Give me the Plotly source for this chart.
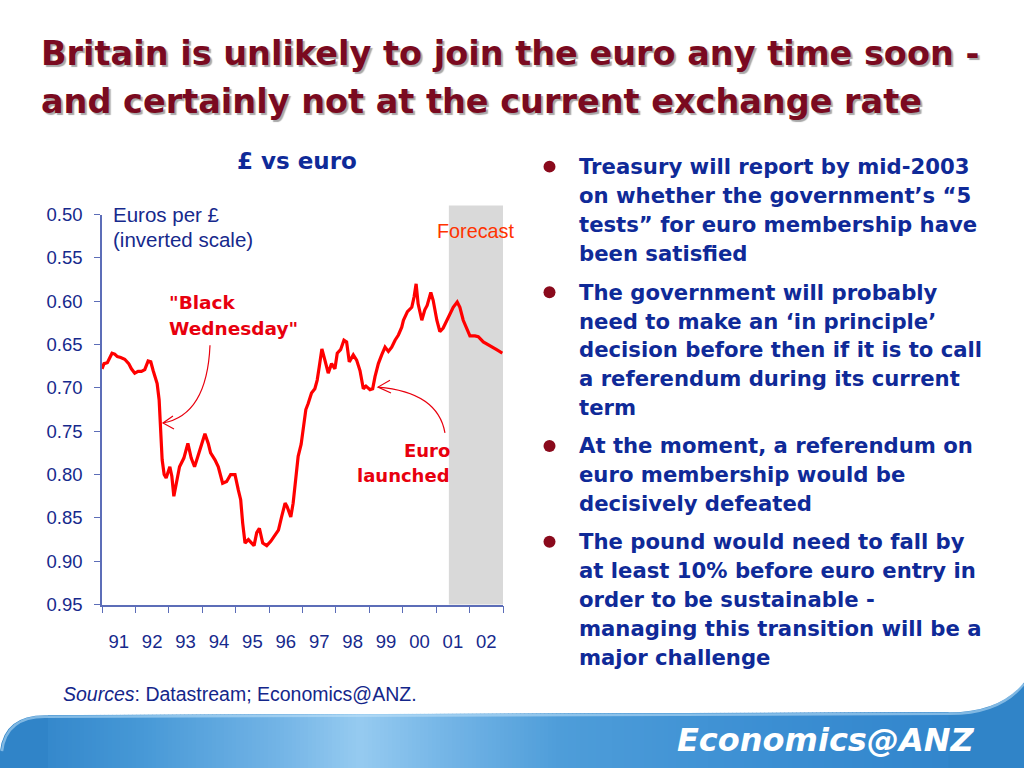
import plotly.graph_objects as go

# ---------------- data ----------------
years = [1991.00, 1991.06, 1991.16, 1991.23, 1991.30, 1991.38, 1991.46, 1991.56, 1991.68, 1991.80,
         1991.88, 1991.98, 1992.08, 1992.18, 1992.28, 1992.38, 1992.46, 1992.53, 1992.65, 1992.71,
         1992.76, 1992.80, 1992.86, 1992.92, 1993.03, 1993.09, 1993.15, 1993.27, 1993.32, 1993.45,
         1993.57, 1993.67, 1993.77, 1993.87, 1993.97, 1994.08, 1994.18, 1994.25, 1994.38, 1994.48,
         1994.61, 1994.73, 1994.85, 1994.98, 1995.08, 1995.15, 1995.21, 1995.28, 1995.38, 1995.48,
         1995.55, 1995.63, 1995.71, 1995.81, 1995.93, 1996.05, 1996.15, 1996.28, 1996.38, 1996.48,
         1996.54, 1996.65, 1996.72, 1996.80, 1996.87, 1996.96, 1997.04, 1997.10, 1997.17, 1997.27,
         1997.37, 1997.44, 1997.50, 1997.58, 1997.67, 1997.77, 1997.87, 1997.97, 1998.04, 1998.14,
         1998.24, 1998.32, 1998.40, 1998.52, 1998.62, 1998.72, 1998.82, 1998.90, 1999.02, 1999.10,
         1999.17, 1999.27, 1999.37, 1999.47, 1999.57, 1999.67, 1999.77, 1999.87, 1999.97, 2000.02,
         2000.14, 2000.27, 2000.34, 2000.40, 2000.46, 2000.57, 2000.66, 2000.73, 2000.84, 2000.91,
         2001.02, 2001.11, 2001.21, 2001.36, 2001.51, 2001.63, 2001.71, 2001.81, 2001.91, 2002.01,
         2002.16, 2002.26, 2002.41, 2002.61, 2002.81, 2002.98]

euros_per_pound = [0.678, 0.672, 0.671, 0.666, 0.660, 0.661, 0.664, 0.665, 0.667, 0.672,
                   0.678, 0.683, 0.681, 0.681, 0.679, 0.669, 0.670, 0.680, 0.695, 0.714,
                   0.749, 0.783, 0.800, 0.804, 0.791, 0.802, 0.825, 0.804, 0.791, 0.781,
                   0.764, 0.781, 0.791, 0.779, 0.766, 0.753, 0.764, 0.775, 0.783, 0.791,
                   0.810, 0.808, 0.800, 0.800, 0.818, 0.829, 0.856, 0.879, 0.875, 0.879,
                   0.882, 0.867, 0.862, 0.879, 0.882, 0.877, 0.871, 0.864, 0.848, 0.833,
                   0.837, 0.849, 0.833, 0.806, 0.779, 0.765, 0.745, 0.725, 0.718, 0.706,
                   0.701, 0.691, 0.676, 0.655, 0.668, 0.683, 0.672, 0.678, 0.660, 0.656,
                   0.645, 0.647, 0.670, 0.662, 0.668, 0.680, 0.701, 0.698, 0.702, 0.701,
                   0.687, 0.672, 0.662, 0.653, 0.658, 0.653, 0.645, 0.639, 0.630, 0.622,
                   0.612, 0.607, 0.595, 0.580, 0.603, 0.622, 0.610, 0.605, 0.590, 0.599,
                   0.622, 0.635, 0.631, 0.618, 0.607, 0.601, 0.607, 0.622, 0.631, 0.640,
                   0.640, 0.641, 0.647, 0.651, 0.656, 0.660]

year_labels = ["91", "92", "93", "94", "95", "96", "97", "98", "99", "00", "01", "02"]
first_year = 1991
y_ticks = [0.50, 0.55, 0.60, 0.65, 0.70, 0.75, 0.80, 0.85, 0.90, 0.95]
forecast_start = 2001.38
forecast_end = 2003.12

title_lines = ["Britain is unlikely to join the euro any time soon -",
               "and certainly not at the current exchange rate"]
bullets = [
    ["Treasury will report by mid-2003",
     "on whether the government\u2019s \u201c5",
     "tests\u201d for euro membership have",
     "been satisfied"],
    ["The government will probably",
     "need to make an \u2018in principle\u2019",
     "decision before then if it is to call",
     "a referendum during its current",
     "term"],
    ["At the moment, a referendum on",
     "euro membership would be",
     "decisively defeated"],
    ["The pound would need to fall by",
     "at least 10% before euro entry in",
     "order to be sustainable -",
     "managing this transition will be a",
     "major challenge"],
]

assert len(years) == len(euros_per_pound)

# ---------------- layout helpers ----------------
W, H = 1024, 768
# the photographed page comes out slightly squeezed vertically; compensate
V_OFF, V_SCALE = 10.0, 0.975


def px(x):
    return x / W


def py(y):
    return 1 - ((y - V_OFF) / V_SCALE) / H


NAVY = "#16298C"
AXIS = "#5C6DB8"
RED = "#FF0000"
TEXT_RED = "#E8000E"
MAROON = "#7A0A20"
BULLET_BLUE = "#0F2A98"

fig = go.Figure()
fig.add_trace(go.Scatter(x=years, y=euros_per_pound, mode="lines",
                         line=dict(color=RED, width=3.2), showlegend=False,
                         hoverinfo="skip"))

year_mid = [first_year + i + 0.5 for i in range(len(year_labels))]
year_edges = [first_year + i for i in range(len(year_labels) + 1)]

fig.update_layout(
    width=W, height=H, margin=dict(l=0, r=0, t=0, b=0),
    paper_bgcolor="white", plot_bgcolor="rgba(0,0,0,0)",
    font=dict(family="Liberation Sans, Arial, sans-serif", color=NAVY, size=18),
    showlegend=False,
    xaxis=dict(domain=[px(102), px(503)], range=[year_edges[0], year_edges[-1]],
               showgrid=False, zeroline=False, showline=True, linecolor=AXIS, linewidth=1.6,
               tickmode="array", tickvals=year_mid, ticktext=year_labels, ticks="",
               ticklabelstandoff=19, tickfont=dict(size=18.5, color=NAVY),
               minor=dict(tickmode="array", tickvals=year_edges, ticks="outside",
                          ticklen=7, tickwidth=1.4, tickcolor=AXIS, showgrid=False)),
    yaxis=dict(domain=[py(605), py(214)], range=[y_ticks[-1], y_ticks[0]],
               showgrid=False, zeroline=False, showline=True, linecolor=AXIS, linewidth=1.6,
               tickmode="array", tickvals=y_ticks, tickformat=".2f", ticks="outside",
               ticklen=6, tickwidth=1.4, tickcolor=AXIS, ticklabelstandoff=8,
               tickfont=dict(size=18.5, color=NAVY)),
)

shapes = []
# forecast shading
shapes.append(dict(type="rect", xref="x", yref="paper", x0=forecast_start, x1=forecast_end,
                   y0=py(605), y1=py(205), fillcolor="#D9D9D9", line=dict(width=0),
                   layer="below"))

# curved annotation arrows (data coordinates)
arrow_line = dict(color="#E8000E", width=1.2)
shapes.append(dict(type="path", xref="x", yref="y",
                   path="M 1994.232,0.6508 Q 1994.142,0.7313 1992.825,0.7405",
                   line=arrow_line))
shapes.append(dict(type="path", xref="x", yref="y",
                   path="M 1993.124,0.7325 L 1992.825,0.7405 L 1993.154,0.7474",
                   line=arrow_line))
shapes.append(dict(type="path", xref="x", yref="y",
                   path="M 2001.263,0.7520 Q 2001.054,0.7049 1999.259,0.6991",
                   line=arrow_line))
shapes.append(dict(type="path", xref="x", yref="y",
                   path="M 1999.618,0.6911 L 1999.259,0.6991 L 1999.648,0.7060",
                   line=arrow_line))


# footer band: smooth outline plus a horizontal gradient made of thin strips
def band_top(x):
    if x <= 950:
        return 716 - 3 * (x - 45) / 905.0
    t = (x - 950) / 74.0
    return 713 - 30 * t * t


BOTTOM = 790
band = (f"M {px(0)},{py(BOTTOM)} L {px(0)},{py(752)} Q {px(4)},{py(716)} {px(45)},{py(716)} "
        f"L {px(950)},{py(713)} Q {px(1000)},{py(713)} {px(1024)},{py(683)} "
        f"L {px(1024)},{py(BOTTOM)} Z")
shapes.append(dict(type="path", xref="paper", yref="paper", path=band,
                   fillcolor="rgb(48,132,200)", line=dict(width=0), layer="below"))

stops = [(0, (44, 128, 198)), (140, (70, 152, 214)), (280, (115, 180, 230)),
         (360, (150, 203, 240)), (440, (118, 182, 231)), (560, (78, 157, 217)),
         (760, (60, 143, 211)), (1024, (46, 130, 201))]


def grad(x):
    for (x0, c0), (x1, c1) in zip(stops[:-1], stops[1:]):
        if x0 <= x <= x1:
            f = (x - x0) / (x1 - x0)
            return "rgb(%d,%d,%d)" % tuple(round(a + (b - a) * f) for a, b in zip(c0, c1))
    return "rgb(%d,%d,%d)" % stops[-1][1]


step = 4
for xs in range(48, 948, step):
    xm = xs + step / 2
    shapes.append(dict(type="rect", xref="paper", yref="paper", x0=px(xs), x1=px(xs + step + 0.6),
                       y0=py(BOTTOM), y1=py(band_top(xm) - 0.2), fillcolor=grad(xm),
                       line=dict(width=0), layer="below"))
# soft lighter rim along the band edge
rim = (f"M {px(2)},{py(752)} Q {px(6)},{py(717.5)} {px(45)},{py(717.5)} "
       f"L {px(950)},{py(714.5)} Q {px(1000)},{py(714.5)} {px(1024)},{py(684.5)}")
shapes.append(dict(type="path", xref="paper", yref="paper", path=rim,
                   line=dict(color="rgba(195,228,250,0.55)", width=2.5)))

# bullet dots
bullet_rows = [166, 292, 446, 542]
for yb in bullet_rows:
    shapes.append(dict(type="circle", xref="paper", yref="paper",
                       x0=px(543.5), x1=px(555.5), y0=py(yb + 6), y1=py(yb - 6),
                       fillcolor="#8A0A1C", line=dict(width=0)))

fig.update_layout(shapes=shapes)

ann = []
# title
for i, line in enumerate(title_lines):
    ann.append(dict(xref="paper", yref="paper", x=px(39), y=py(53 + 47.5 * i),
                    xanchor="left", yanchor="middle", showarrow=False, text=line,
                    font=dict(family="DejaVu Sans", size=33.5, color=MAROON, weight="bold",
                              shadow="2px 2px 1px #A8A8A8")))
# chart subtitle
ann.append(dict(xref="paper", yref="paper", x=px(297), y=py(160), xanchor="center",
                yanchor="middle", showarrow=False, text="\u00a3 vs euro",
                font=dict(family="DejaVu Sans", size=23, color="#0F2A98", weight="bold")))
# axis unit
ann.append(dict(xref="paper", yref="paper", x=px(111), y=py(214), xanchor="left",
                yanchor="middle", showarrow=False, text="Euros per \u00a3",
                font=dict(size=20.5, color=NAVY)))
ann.append(dict(xref="paper", yref="paper", x=px(111), y=py(239), xanchor="left",
                yanchor="middle", showarrow=False, text="(inverted scale)",
                font=dict(size=20.5, color=NAVY)))
# forecast label
ann.append(dict(xref="paper", yref="paper", x=px(475), y=py(231), xanchor="center",
                yanchor="middle", showarrow=False, text="Forecast",
                font=dict(size=19.8, color="#FF3300")))
# Black Wednesday
ann.append(dict(xref="paper", yref="paper", x=px(167), y=py(302), xanchor="left",
                yanchor="middle", showarrow=False, text="\"Black",
                font=dict(family="DejaVu Sans", size=18.5, color=TEXT_RED, weight="bold")))
ann.append(dict(xref="paper", yref="paper", x=px(167), y=py(328), xanchor="left",
                yanchor="middle", showarrow=False, text="Wednesday\"",
                font=dict(family="DejaVu Sans", size=18.5, color=TEXT_RED, weight="bold")))
# Euro launched
ann.append(dict(xref="paper", yref="paper", x=px(452), y=py(451), xanchor="right",
                yanchor="middle", showarrow=False, text="Euro",
                font=dict(family="DejaVu Sans", size=18, color=TEXT_RED, weight="bold")))
ann.append(dict(xref="paper", yref="paper", x=px(452), y=py(476), xanchor="right",
                yanchor="middle", showarrow=False, text="launched",
                font=dict(family="DejaVu Sans", size=18, color=TEXT_RED, weight="bold")))
# bullets
for bi, lines in enumerate(bullets):
    for li, line in enumerate(lines):
        ann.append(dict(xref="paper", yref="paper", x=px(577), y=py(bullet_rows[bi] + 28.9 * li),
                        xanchor="left", yanchor="middle", showarrow=False, text=line,
                        font=dict(family="DejaVu Sans", size=21.2, color=BULLET_BLUE,
                                  weight="bold")))
# sources
ann.append(dict(xref="paper", yref="paper", x=px(61), y=py(695), xanchor="left",
                yanchor="middle", showarrow=False,
                text="<i>Sources</i>: Datastream; Economics@ANZ.",
                font=dict(size=19.5, color="#14268A")))
# logo text
ann.append(dict(xref="paper", yref="paper", x=px(976), y=py(741), xanchor="right",
                yanchor="middle", showarrow=False, text="<b><i>Economics@ANZ</i></b>",
                font=dict(family="DejaVu Sans", size=32, color="white")))

fig.update_layout(annotations=ann)

fig.write_html("out.html", config={"displayModeBar": False},
               post_script="document.documentElement.style.margin='0';"
                           "document.body.style.margin='0';document.body.style.overflow='hidden';"
                           "document.body.style.background='linear-gradient(to bottom, #ffffff 0px,"
                           " #ffffff 740px, #3184c8 740px)';")
